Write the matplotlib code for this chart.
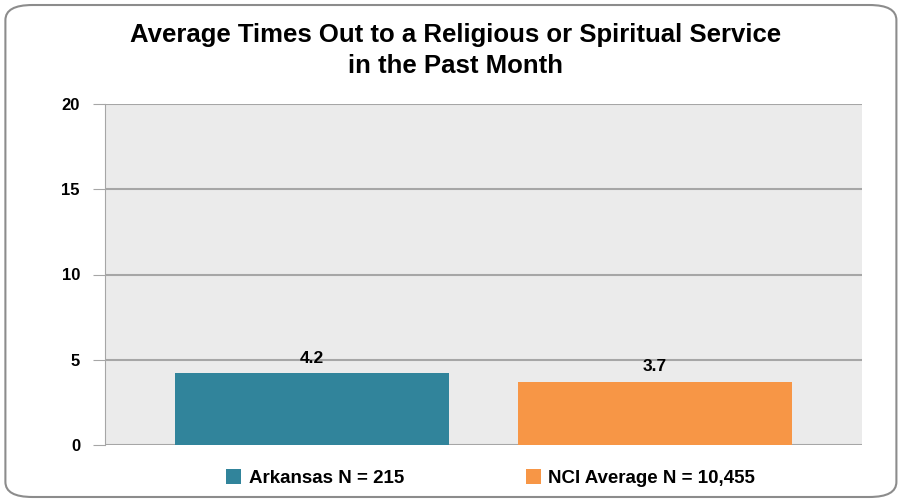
import matplotlib.pyplot as plt
from matplotlib.patches import FancyBboxPatch

plt.rcParams['font.family'] = ['Liberation Sans', 'DejaVu Sans']

series = ["Arkansas N = 215", "NCI Average N = 10,455"]
values = [4.2, 3.7]
colors = ["#31849B", "#F79646"]
yticks = [0, 5, 10, 15, 20]

fig = plt.figure(figsize=(9, 5.01), dpi=100)
frame = FancyBboxPatch(
    (0.006, 0.008), 0.99, 0.982, boxstyle="round,pad=0,rounding_size=0.03",
    transform=fig.transFigure, facecolor="white", edgecolor="#8C8C8C", linewidth=1.5,
    zorder=-10,
)
fig.patches.append(frame)

ax = fig.add_axes([105 / 900, 1 - 445 / 501, 757 / 900, 341 / 501])
ax.set_facecolor("#EBEBEB")

positions = [0.2735, 0.7266]
bars = ax.bar(positions, values, width=0.362, color=colors, label=series, zorder=3)
for b, v in zip(bars, values):
    ax.text(b.get_x() + b.get_width() / 2, v + 0.45, f"{v:.1f}",
            ha="center", va="bottom", fontsize=12.5, fontweight="bold")

ax.set_xlim(0, 1)
ax.set_ylim(0, 20)
ax.set_yticks(yticks)
ax.set_xticks([])
ax.yaxis.grid(True, color="#A6A6A6", linewidth=1.5, zorder=1)
ax.set_axisbelow(True)
ax.tick_params(axis="y", length=9, color="#A6A6A6", labelsize=12, pad=9)
for lbl in ax.get_yticklabels():
    lbl.set_fontweight("bold")
for s in ["top", "right", "bottom"]:
    ax.spines[s].set_visible(False)
ax.spines["left"].set_color("#A6A6A6")

fig.text(0.506, 0.899, "Average Times Out to a Religious or Spiritual Service\nin the Past Month",
         ha="center", va="center", fontsize=18.5, fontweight="bold", linespacing=1.4)

fig.legend(handles=bars, labels=series, loc="center", bbox_to_anchor=(0.545, 1 - 478 / 501),
           ncol=2, frameon=False, prop={"weight": "bold", "size": 13.5},
           handlelength=0.8, handleheight=0.8, columnspacing=6.5, handletextpad=0.4)

fig.savefig("out.png", dpi=100)
